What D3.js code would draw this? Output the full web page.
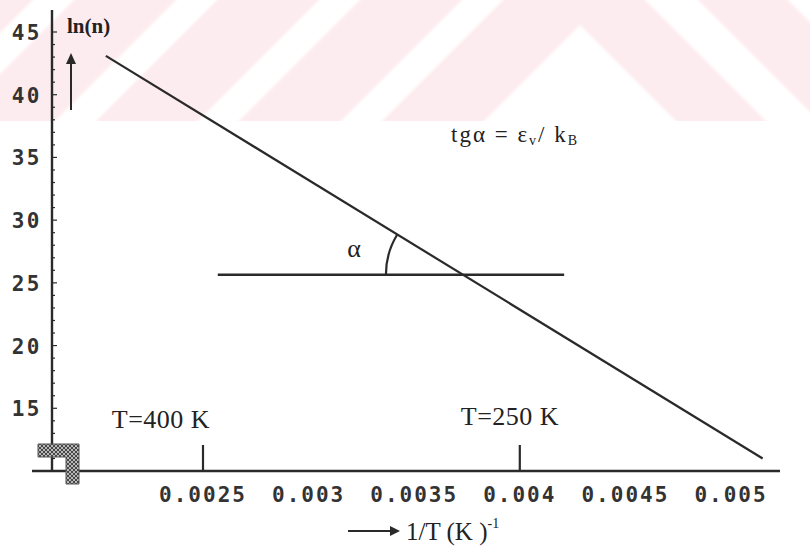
<!DOCTYPE html>
<html>
<head>
<meta charset="utf-8">
<script src="https://cdn.jsdelivr.net/npm/d3@7/dist/d3.min.js"></script>
<style>
  html, body { margin: 0; padding: 0; background: #fff; }
  svg { display: block; }
</style>
</head>
<body>
<div id="chart"></div>
<script>
// Arrhenius-type plot: ln(n) against inverse temperature
const xTicks = [0.0025, 0.003, 0.0035, 0.004, 0.0045, 0.005];
const xTickLabels = ["0.0025", "0.003", "0.0035", "0.004", "0.0045", "0.005"];
const yTicks = [15, 20, 25, 30, 35, 40, 45];
const yTickLabels = ["15", "20", "25", "30", "35", "40", "45"];
const yMinorTicks = d3.range(11, 46);

// straight line ln(n) vs 1/T
const lineX = [0.00204, 0.00515];
const lineY = [43.1, 11.0];

// horizontal reference line used to show the slope angle
const refLineX = [0.00257, 0.00421];
const refLineY = 25.65;

// marked temperatures (K) and where their captions sit
const markTemps = [400, 250];
const markLabels = ["T=400 K", "T=250 K"];
const markLabelPos = [[161, 428], [510, 425]];

const W = 810, H = 553;
const svg = d3.select("#chart").append("svg")
  .attr("width", W).attr("height", H)
  .attr("viewBox", `0 0 ${W} ${H}`);

const defs = svg.append("defs");
defs.append("clipPath").attr("id", "band")
  .append("rect").attr("x", 0).attr("y", 0).attr("width", W).attr("height", 121);
defs.append("filter").attr("id", "soft")
  .append("feGaussianBlur").attr("stdDeviation", 1.5);

// stippled fill for the small mark at the origin
const pat = defs.append("pattern").attr("id", "stipple")
  .attr("width", 4).attr("height", 4).attr("patternUnits", "userSpaceOnUse");
pat.append("rect").attr("width", 4).attr("height", 4).attr("fill", "#b8b8b8");
pat.append("path").attr("d", "M0,0 L4,4 M4,0 L0,4").attr("stroke", "#3a3a3a").attr("stroke-width", 0.9);

// faint chevron watermark band across the top
const wm = svg.append("g").attr("clip-path", "url(#band)")
  .append("g").attr("filter", "url(#soft)");
d3.range(0, 5).forEach(k => {
  const s = 143 * k;
  const pts = [
    [574, -71 - s], [303 - s, 200], [405 - s, 200],
    [580, 25 - s], [755 + s, 200], [845 + s, 200]
  ];
  wm.append("path")
    .attr("d", d3.line()(pts) + "Z")
    .attr("fill", "#fdecef");
});

const x = d3.scaleLinear().domain([0.0025, 0.005]).range([203, 731]);
const y = d3.scaleLinear().domain([10, 45]).range([471, 32]);

const ink = "#2a2a2a";
const axisX0 = 52;      // position of the vertical axis
const axisYtop = 10;

const g = svg.append("g");

// vertical axis with ticks on the inside
g.append("line")
  .attr("x1", axisX0).attr("x2", axisX0)
  .attr("y1", axisYtop).attr("y2", y(10) + 1)
  .attr("stroke", ink).attr("stroke-width", 2.4);
g.selectAll(".ymin").data(yMinorTicks).join("line")
  .attr("x1", axisX0).attr("x2", d => axisX0 + (d % 5 === 0 ? 5 : 3))
  .attr("y1", d => y(d)).attr("y2", d => y(d))
  .attr("stroke", ink).attr("stroke-width", 1.2);
g.selectAll(".ylab").data(yTicks).join("text")
  .attr("x", 42).attr("y", d => y(d) + 8)
  .attr("text-anchor", "end")
  .attr("font-family", "'DejaVu Sans Mono', 'Liberation Mono', monospace")
  .attr("font-weight", "bold").attr("font-size", 21)
  .attr("letter-spacing", 2.5)
  .attr("fill", "#333")
  .text((d, i) => yTickLabels[i]);

// horizontal axis
g.append("line")
  .attr("x1", 32).attr("x2", 780)
  .attr("y1", y(10)).attr("y2", y(10))
  .attr("stroke", ink).attr("stroke-width", 2.6);
g.selectAll(".xlab").data(xTicks).join("text")
  .attr("x", d => x(d)).attr("y", 502)
  .attr("text-anchor", "middle")
  .attr("font-family", "'DejaVu Sans Mono', 'Liberation Mono', monospace")
  .attr("font-weight", "bold").attr("font-size", 21)
  .attr("letter-spacing", 2)
  .attr("fill", "#333")
  .text((d, i) => xTickLabels[i]);

// stippled mark near the origin
g.append("path")
  .attr("d", "M38,444 L79,444 L79,484 L66,484 L66,457 L38,457 Z")
  .attr("fill", "url(#stipple)").attr("stroke", "#555").attr("stroke-width", 1);

// ln(n) vs 1/T line
g.append("line")
  .attr("x1", x(lineX[0])).attr("y1", y(lineY[0]))
  .attr("x2", x(lineX[1])).attr("y2", y(lineY[1]))
  .attr("stroke", ink).attr("stroke-width", 2.2);

// horizontal reference line and angle arc
g.append("line")
  .attr("x1", x(refLineX[0])).attr("x2", x(refLineX[1]))
  .attr("y1", y(refLineY)).attr("y2", y(refLineY))
  .attr("stroke", ink).attr("stroke-width", 2.4);

const slope = (lineY[1] - lineY[0]) / (lineX[1] - lineX[0]);
const xCross = lineX[0] + (refLineY - lineY[0]) / slope;
const cx = x(xCross), cy = y(refLineY);
const dx = x(lineX[0]) - cx, dy = y(lineY[0]) - cy;
const ang = Math.atan2(dy, dx);
const r = 77;
g.append("path")
  .attr("d", `M${cx - r},${cy} A${r},${r} 0 0 1 ${cx + r * Math.cos(ang)},${cy + r * Math.sin(ang)}`)
  .attr("fill", "none").attr("stroke", ink).attr("stroke-width", 2.2);

const serif = "'Liberation Serif', 'DejaVu Serif', serif";
g.append("text").attr("x", 354).attr("y", 257)
  .attr("font-family", serif).attr("font-size", 26).attr("fill", "#222")
  .attr("text-anchor", "middle").text("α");

// slope formula
const f = g.append("text").attr("x", 451).attr("y", 142)
  .attr("font-family", serif).attr("font-size", 23).attr("fill", "#222")
  .attr("letter-spacing", 2);
f.append("tspan").text("tgα = ε");
f.append("tspan").attr("font-size", 14).attr("dy", 3).text("v");
f.append("tspan").attr("dy", -3).text("/ k");
f.append("tspan").attr("font-size", 14).attr("dy", 3).text("B");

// y-axis title with arrow
g.append("text").attr("x", 67).attr("y", 33)
  .attr("font-family", serif).attr("font-size", 21).attr("font-weight", "bold")
  .attr("fill", "#222").text("ln(n)");
g.append("line").attr("x1", 71).attr("x2", 71).attr("y1", 62).attr("y2", 110)
  .attr("stroke", ink).attr("stroke-width", 2);
g.append("path").attr("d", "M71,53 L66,64 L76,64 Z").attr("fill", ink);

// temperature markers at 1/T
markTemps.forEach((T, i) => {
  const mx = x(1 / T);
  g.append("line").attr("x1", mx).attr("x2", mx).attr("y1", y(10) - 26).attr("y2", y(10))
    .attr("stroke", ink).attr("stroke-width", 2.2);
  g.append("text").attr("x", markLabelPos[i][0]).attr("y", markLabelPos[i][1])
    .attr("text-anchor", "middle")
    .attr("font-family", serif).attr("font-size", 26).attr("fill", "#222")
    .attr("letter-spacing", 0.5)
    .text(markLabels[i]);
});

// x-axis title with arrow
g.append("line").attr("x1", 348).attr("x2", 392).attr("y1", 531).attr("y2", 531)
  .attr("stroke", ink).attr("stroke-width", 2);
g.append("path").attr("d", "M400,531 L390,526 L390,536 Z").attr("fill", ink);
const xt = g.append("text").attr("x", 406).attr("y", 540)
  .attr("font-family", serif).attr("font-size", 25).attr("fill", "#222")
  .text("1/T (K )");
xt.append("tspan").attr("font-size", 14).attr("dy", -12).text("-1");
</script>
</body>
</html>
